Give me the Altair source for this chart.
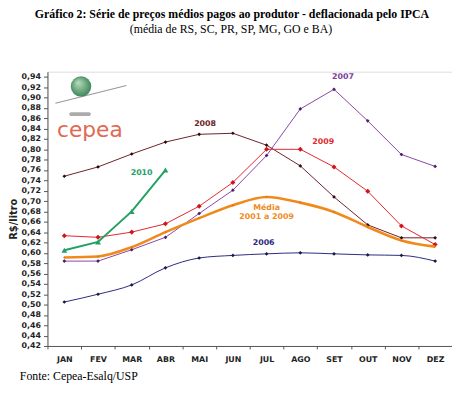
import altair as alt
import pandas as pd

months = ["JAN", "FEV", "MAR", "ABR", "MAI", "JUN", "JUL", "AGO", "SET", "OUT", "NOV", "DEZ"]
s2006 = [0.505, 0.520, 0.538, 0.571, 0.590, 0.595, 0.598, 0.600, 0.598, 0.596, 0.595, 0.584]
s2007 = [0.584, 0.584, 0.606, 0.630, 0.676, 0.721, 0.788, 0.878, 0.916, 0.855, 0.790, 0.767]
s2008 = [0.748, 0.766, 0.791, 0.814, 0.829, 0.831, 0.808, 0.768, 0.708, 0.654, 0.629, 0.629]
s2009 = [0.633, 0.630, 0.640, 0.656, 0.690, 0.736, 0.800, 0.800, 0.766, 0.719, 0.652, 0.616]
media = [0.591, 0.593, 0.611, 0.640, 0.667, 0.692, 0.708, 0.697, 0.679, 0.650, 0.624, 0.612]
s2010 = [0.605, 0.621, 0.680, 0.760]
y_ticks = [round(0.42 + 0.02 * i, 2) for i in range(27)]

label_text = ["2008", "2007", "2009", "2010", "Média", "2001 a 2009", "2006"]
label_month = ["MAI", "SET", "SET", "MAR", "JUL", "JUL", "JUL"]
label_value = [0.849, 0.939, 0.815, 0.754, 0.687, 0.670, 0.619]
label_dx = [6, 9, -11, 10, 0, 0, -3]
label_color = ["#6E2027", "#7B3C9B", "#E0282E", "#21A163", "#F08A1C", "#F08A1C", "#2B2A7F"]

series = [
    ("2006", s2006, "#2B2A7F", "#1a1a40", "monotone", 1.0, "diamond", 14),
    ("2007", s2007, "#8A45A8", "#4A1F66", "linear", 1.0, "diamond", 14),
    ("2008", s2008, "#6E2027", "#2a0d10", "linear", 1.0, "diamond", 14),
    ("2009", s2009, "#E0282E", "#D0141C", "linear", 1.0, "diamond", 26),
    ("Média", media, "#F08A1C", "#E07810", "monotone", 2.6, "diamond", 6),
    ("2010", s2010, "#21A163", "#21A163", "linear", 2.0, "triangle-up", 34),
]

x_enc = alt.X(
    "mes:N",
    sort=months,
    scale=alt.Scale(type="band", domain=months, paddingInner=0, paddingOuter=0),
    axis=alt.Axis(
        title=None, tickBand="extent", labelFont="DejaVu Sans", labelFontWeight="bold",
        labelFontSize=8, labelColor="#222", labelPadding=7, tickSize=3,
        tickColor="#555", domainColor="#555", labelAngle=0,
    ),
)
y_enc = alt.Y(
    "v:Q",
    scale=alt.Scale(domain=[0.42, 0.95], nice=False, zero=False),
    axis=alt.Axis(
        values=y_ticks, tickCount=27, labelExpr="replace(format(datum.value, '.2f'), '.', ',')",
        labelOverlap=False,
        title="R$/litro", titleFont="DejaVu Sans", titleFontWeight="bold", titleFontSize=10,
        titleColor="#222", titleX=-34, titleY=149, titleAngle=-90, titleBaseline="middle",
        titleAlign="center",
        labelFont="DejaVu Sans", labelFontWeight="bold", labelFontSize=8, labelColor="#222",
        tickSize=4, tickColor="#555", domainColor="#555", labelPadding=3, grid=False,
    ),
)

layers = []
for name, vals, col, mcol, interp, sw, shape, size in series:
    df = pd.DataFrame({"mes": months[: len(vals)], "v": vals})
    base = alt.Chart(df).encode(x=x_enc, y=y_enc)
    layers.append(base.mark_line(color=col, strokeWidth=sw, interpolate=interp))
    layers.append(base.mark_point(shape=shape, filled=True, color=mcol, size=size, opacity=1))

for t, m, v, dx, c in zip(label_text, label_month, label_value, label_dx, label_color):
    df = pd.DataFrame({"mes": [m], "v": [v], "t": [t]})
    layers.append(
        alt.Chart(df).mark_text(font="DejaVu Sans", fontWeight="bold", fontSize=8, color=c, dx=dx)
        .encode(x=x_enc, y=y_enc, text="t:N")
    )

# logo (decoration)
logo_df = pd.DataFrame({"k": [0]})
sphere = alt.Chart(logo_df).mark_point(
    filled=True, size=430, opacity=1, shape="circle",
    color=alt.RadialGradient(
        gradient="radial", x1=0.35, y1=0.3, x2=0.5, y2=0.5, r1=0, r2=0.6,
        stops=[alt.GradientStop(color="#b9dfc0", offset=0), alt.GradientStop(color="#2f7a4c", offset=1)],
    ),
).encode(x=alt.value(34), y=alt.value(15))
ring = alt.Chart(logo_df).mark_rule(color="#999", strokeWidth=1.2).encode(
    x=alt.value(8), y=alt.value(32), x2=alt.value(80), y2=alt.value(14))
shadow = alt.Chart(logo_df).mark_rule(color="#888", strokeWidth=4, strokeCap="round", opacity=0.7).encode(
    x=alt.value(24), x2=alt.value(42), y=alt.value(43), y2=alt.value(43))
cepea = alt.Chart(logo_df).mark_text(
    text="cepea", font="DejaVu Sans", fontSize=22, color="#E06A52", baseline="alphabetic", align="center"
).encode(x=alt.value(43), y=alt.value(66))

title1 = alt.Chart(logo_df).mark_text(
    text="Gráfico 2: Série de preços médios pagos ao produtor - deflacionada pelo IPCA",
    font="Liberation Serif", fontWeight="bold", fontSize=12, color="#000", align="center", baseline="middle",
).encode(x=alt.value(187), y=alt.value(-58))
title2 = alt.Chart(logo_df).mark_text(
    text="(média de RS, SC, PR, SP, MG, GO e BA)",
    font="Liberation Serif", fontSize=12, color="#000", align="center", baseline="middle",
).encode(x=alt.value(186), y=alt.value(-43))
footer = alt.Chart(logo_df).mark_text(
    text="Fonte: Cepea-Esalq/USP",
    font="Liberation Serif", fontSize=12, color="#000", align="left", baseline="alphabetic",
).encode(x=alt.value(-28), y=alt.value(312))

chart = alt.layer(
    ring, sphere, shadow, cepea, *layers, title1, title2, footer
).properties(
    width=410, height=278, autosize=alt.AutoSizeParams(type="none"),
    padding={"left": 40, "top": 62, "right": 0, "bottom": 37},
).configure_view(stroke=None).configure(background="white")

chart.save("out.html", embed_options={"renderer": "svg", "actions": False})
